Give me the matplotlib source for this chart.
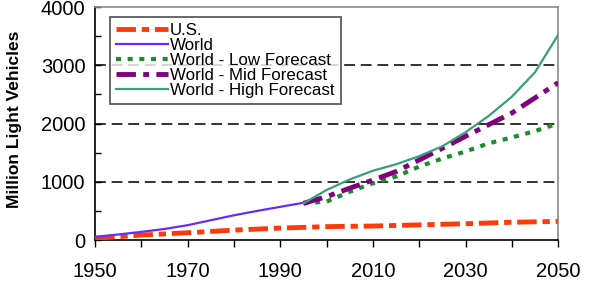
import matplotlib
matplotlib.use("Agg")
import matplotlib.pyplot as plt

plt.rcParams['font.family'] = ['Liberation Sans', 'DejaVu Sans']

# --- data (million light vehicles) ---
us_years = [1950, 1960, 1970, 1980, 1990, 2000, 2010, 2020, 2030, 2040, 2050]
us_vals = [30, 85, 125, 170, 205, 230, 240, 260, 280, 305, 320]

world_years = [1950, 1955, 1960, 1965, 1970, 1975, 1980, 1985, 1990, 1995]
world_vals = [55, 95, 140, 190, 255, 340, 425, 500, 570, 640]

fc_years = [1995, 2000, 2005, 2010, 2015, 2020, 2025, 2030, 2035, 2040, 2045, 2050]
low_vals = [630, 660, 830, 975, 1090, 1260, 1400, 1520, 1660, 1760, 1870, 2000]
mid_vals = [630, 745, 890, 1030, 1175, 1375, 1575, 1780, 1980, 2180, 2440, 2700]
high_vals = [630, 860, 1040, 1190, 1300, 1440, 1610, 1850, 2130, 2460, 2880, 3520]

labels = ["U.S.", "World", "World - Low Forecast", "World - Mid Forecast", "World - High Forecast"]

fig = plt.figure(figsize=(6.14, 2.92), dpi=100)
ax = fig.add_axes([0.155, 0.178, 0.754, 0.798])

for y in (1000, 2000, 3000):
    ax.axhline(y, color='#222222', lw=1.3, dashes=(6, 3.2), zorder=1)

ax.plot(us_years, us_vals, color='#ff3a0a', lw=3.5, dashes=(4, 1.2, 1.5, 1.2), label=labels[0], zorder=3)
ax.plot(world_years, world_vals, color='#6a2cf0', lw=1.6, label=labels[1], zorder=3)
ax.plot(fc_years, low_vals, color='#1c8c2c', lw=3, dashes=(1.2, 1.6), label=labels[2], zorder=3)
ax.plot(fc_years, mid_vals, color='#800080', lw=3.5, dashes=(4, 1.5, 1.2, 1.5), label=labels[3], zorder=3)
ax.plot(fc_years, high_vals, color='#3a9e78', lw=1.6, label=labels[4], zorder=4)

ax.set_xlim(1950, 2050)
ax.set_ylim(0, 4000)
ax.set_xticks(range(1950, 2051, 20))
ax.set_xticks(range(1950, 2051, 10), minor=True)
ax.set_yticks(range(0, 4001, 1000))
ax.set_yticks(range(0, 4001, 500), minor=True)
ax.tick_params(axis='x', which='both', direction='out', length=5, width=1, labelsize=14.5, pad=11)
ax.tick_params(axis='y', which='both', direction='in', length=4, width=1, labelsize=14.5, pad=7)

for s in ('left', 'bottom'):
    ax.spines[s].set_color('black')
    ax.spines[s].set_linewidth(1.2)
for s in ('top', 'right'):
    ax.spines[s].set_color('#8a8a8a')
    ax.spines[s].set_linewidth(1.2)

ax.set_ylabel("Million Light Vehicles", fontsize=12.5, fontweight='bold')
ax.yaxis.set_label_coords(-0.158, 0.52)

leg = ax.legend(loc='upper left', bbox_to_anchor=(0.032, 0.955), fontsize=12.2,
                frameon=True, fancybox=False, edgecolor='#333333',
                handlelength=3.1, handletextpad=0.1, labelspacing=0.0,
                borderpad=0.35, borderaxespad=0)
leg.get_frame().set_linewidth(1.3)

fig.savefig("out.png", dpi=100)
